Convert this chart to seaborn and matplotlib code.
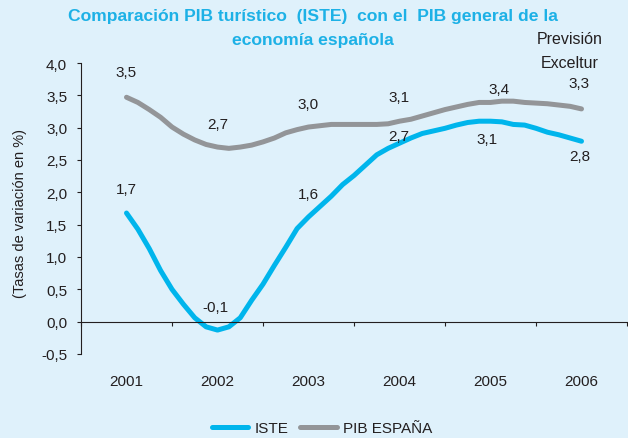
import numpy as np
import pandas as pd
import matplotlib
matplotlib.use('Agg')
import matplotlib.pyplot as plt
import matplotlib.transforms as mtransforms
from matplotlib.ticker import FuncFormatter
import seaborn as sns

# values, 8 readings per year, 2001 .. 2006
years = ["2001", "2002", "2003", "2004", "2005", "2006"]
steps_per_year = 8
iste = [1.68, 1.43, 1.13, 0.79, 0.50, 0.27, 0.06, -0.08,
        -0.13, -0.08, 0.06, 0.33, 0.58, 0.87, 1.15, 1.44,
        1.62, 1.78, 1.94, 2.12, 2.26, 2.42, 2.58, 2.68,
        2.76, 2.84, 2.91, 2.95, 2.99, 3.04, 3.08, 3.10,
        3.10, 3.09, 3.05, 3.04, 2.99, 2.93, 2.89, 2.84,
        2.79]
pib = [3.47, 3.39, 3.28, 3.16, 3.01, 2.90, 2.81, 2.74,
       2.70, 2.68, 2.70, 2.73, 2.78, 2.84, 2.92, 2.97,
       3.01, 3.03, 3.05, 3.05, 3.05, 3.05, 3.05, 3.06,
       3.10, 3.13, 3.18, 3.23, 3.28, 3.32, 3.36, 3.39,
       3.39, 3.41, 3.41, 3.39, 3.38, 3.37, 3.35, 3.33,
       3.29]
iste_annual = [1.7, -0.1, 1.6, 2.7, 3.1, 2.8]
pib_annual = [3.5, 2.7, 3.0, 3.1, 3.4, 3.3]

# label offsets in pixels (layout only)
iste_offsets = [(0, 23), (-2, 21), (0, 24), (-1, 11), (-3, -18), (-2, -15)]
pib_offsets = [(0, 23), (0, 23), (0, 24), (0, 24), (9, 13), (-2, 25)]

BG = "#DFF1FB"
CYAN = "#00B5EC"
GRAY = "#939598"
TITLE = "#1DB1E6"
INK = "#231F20"
FS = 11

sns.set_theme(style="white")
plt.rcParams['font.family'] = ['Liberation Sans', 'DejaVu Sans']

n = len(iste)
t = np.arange(n) / steps_per_year
df = pd.DataFrame({
    "t": np.concatenate([t, t]),
    "valor": iste + pib,
    "serie": ["ISTE"] * n + ["PIB ESPAÑA"] * n,
})

fig = plt.figure(figsize=(6.28, 4.39), dpi=100)
fig.patch.set_facecolor(BG)
ax = fig.add_axes([81 / 628, 1 - 355 / 439, (627 - 81) / 628, 291 / 439])
ax.set_facecolor(BG)

sns.lineplot(data=df, x="t", y="valor", hue="serie",
             palette={"ISTE": CYAN, "PIB ESPAÑA": GRAY},
             linewidth=3.6, ax=ax)

ax.set_xlim(-0.5, 5.5)
ax.set_ylim(-0.5, 4.0)
ax.set_yticks(np.arange(-0.5, 4.01, 0.5))
ax.yaxis.set_major_formatter(FuncFormatter(lambda v, p: f"{v:.1f}".replace(".", ",")))
ax.set_xticks([])
ax.set_xticks(np.arange(-0.5, 5.6, 1), minor=True)
ax.set_xlabel("")
ax.set_ylabel("")

for s in ["top", "right"]:
    ax.spines[s].set_visible(False)
for s in ["left", "bottom"]:
    ax.spines[s].set_color(INK)
    ax.spines[s].set_linewidth(0.8)
ax.spines["bottom"].set_position(("data", 0))

ax.tick_params(axis="y", which="major", left=True, length=3, width=0.8,
               color=INK, labelcolor=INK, labelsize=FS, pad=7)
ax.tick_params(axis="x", which="minor", bottom=True, length=3, width=0.8,
               color=INK, direction="out")

# year labels sit below the plot area
trans = mtransforms.blended_transform_factory(ax.transData, ax.transAxes)
for i, yr in enumerate(years):
    ax.text(i, -0.093, yr, transform=trans, ha="center", va="center",
            fontsize=FS, color=INK)

# value labels
for vals, offs in [(iste_annual, iste_offsets), (pib_annual, pib_offsets)]:
    for i, (v, (dx, dy)) in enumerate(zip(vals, offs)):
        ax.annotate(f"{v:.1f}".replace(".", ","), (i, v), xytext=(dx, dy),
                    textcoords="offset pixels", ha="center", va="center",
                    fontsize=FS, color=INK)

fig.text(313 / 628, 1 - 16 / 439, "Comparación PIB turístico  (ISTE)  con el  PIB general de la",
         ha="center", va="center", fontsize=12.6, fontweight="bold", color=TITLE)
fig.text(313 / 628, 1 - 40 / 439, "economía española",
         ha="center", va="center", fontsize=12.6, fontweight="bold", color=TITLE)
fig.text(570 / 628, 1 - 39 / 439, "Previsión", ha="center", va="center",
         fontsize=11.5, color=INK)
fig.text(570 / 628, 1 - 63 / 439, "Exceltur", ha="center", va="center",
         fontsize=11.5, color=INK)
fig.text(20 / 628, 1 - 213 / 439, "(Tasas de variación en %)", rotation=90,
         ha="center", va="center", fontsize=10.5, color=INK)

handles, labels = ax.get_legend_handles_labels()
ax.legend(handles, labels, loc="center", bbox_to_anchor=(322 / 628, 1 - 429 / 439),
          bbox_transform=fig.transFigure, ncol=2, frameon=False,
          handlelength=2.4, handletextpad=0.4, columnspacing=0.8, fontsize=FS)
for line in ax.get_legend().get_lines():
    line.set_linewidth(3.6)
for txt in ax.get_legend().get_texts():
    txt.set_color(INK)

fig.savefig("out.png", dpi=100, facecolor=BG)
